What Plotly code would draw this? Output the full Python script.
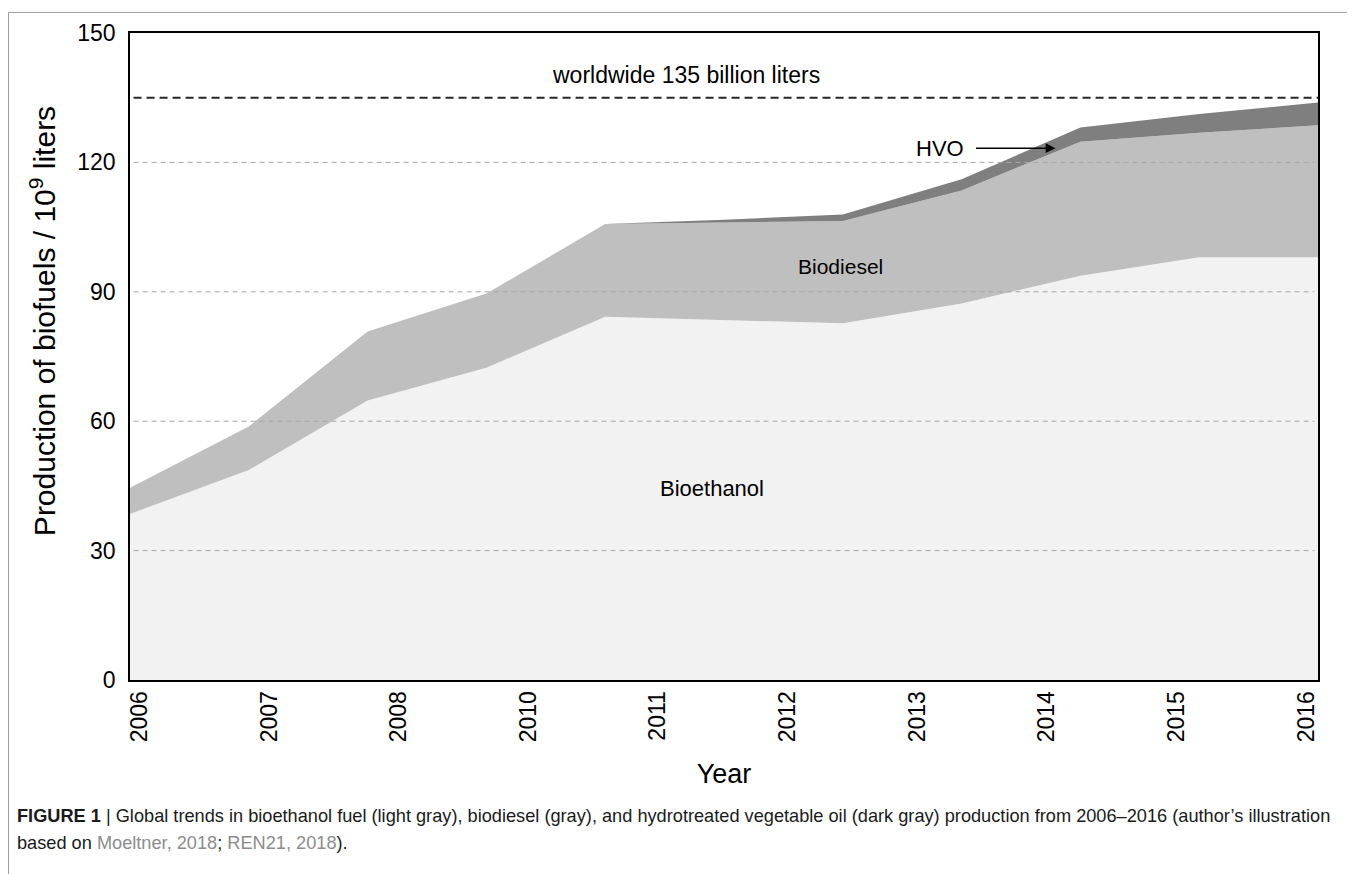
import numpy as np
import plotly.graph_objects as go

# production of biofuels, 10^9 liters
years = [2006, 2007, 2008, 2009, 2010, 2011, 2012, 2013, 2014, 2015, 2016]
bioethanol = [38.5, 48.7, 64.8, 72.4, 84.2, 83.5, 82.7, 87.3, 93.7, 98.0, 98.0]
biodiesel = [6.1, 10.1, 16.0, 17.2, 21.5, 22.5, 23.7, 26.2, 31.1, 28.9, 30.6]
hvo = [0.0, 0.0, 0.0, 0.0, 0.0, 0.7, 1.5, 2.6, 3.3, 4.3, 5.3]

# axis labels as printed in the figure (2009 is not labelled)
tick_labels = ["2006", "2007", "2008", "2010", "2011",
               "2012", "2013", "2014", "2015", "2016"]
grid_values = [30, 60, 90, 120]
worldwide_total = 135

fig = go.Figure()

fig.add_trace(go.Scatter(
    x=years, y=bioethanol, name="Bioethanol",
    stackgroup="fuels", mode="lines",
    line={'width': 0}, fillcolor="#f2f2f2"
))
fig.add_trace(go.Scatter(
    x=years, y=biodiesel, name="Biodiesel",
    stackgroup="fuels", mode="lines",
    line={'width': 0}, fillcolor="#bfbfbf"
))
fig.add_trace(go.Scatter(
    x=years, y=hvo, name="HVO",
    stackgroup="fuels", mode="lines",
    line={'width': 0}, fillcolor="#7f7f7f"
))

# dashed grid drawn above the filled areas
for g in grid_values:
    fig.add_shape(
        type="line", xref="paper", yref="y",
        x0=0.003, x1=0.997, y0=g, y1=g,
        line={'color': "#a6a6a6", 'width': 1, 'dash': "5px,4px"},
        layer="above"
    )

fig.add_shape(
    type="line", xref="paper", yref="y",
    x0=0.003, x1=1, y0=worldwide_total, y1=worldwide_total,
    line={'color': "#262626", 'width': 2, 'dash': "8px,5px"},
    layer="above"
)

# light frame around the whole figure
fig.add_shape(
    type="rect", xref="paper", yref="paper",
    x0=-0.1022, x1=1.03, y0=-0.35, y1=1.0318,
    line={'color': "#9a9a9a", 'width': 1}
)

text_font = {'family': "Arial, Liberation Sans", 'size': 22, 'color': "black"}

fig.add_annotation(x=2010.68, y=140.3, text="worldwide 135 billion liters",
                   showarrow=False, font={**text_font, 'size': 23})
fig.add_annotation(x=2011.98, y=95.8, text="Biodiesel",
                   showarrow=False, font={**text_font, 'size': 21})
fig.add_annotation(x=2010.9, y=44.3, text="Bioethanol",
                   showarrow=False, font=text_font)
fig.add_annotation(x=2013.79, y=123.3, text="HVO",
                   showarrow=True, ax=-115, ay=0, startstandoff=10,
                   arrowhead=2, arrowsize=1.3, arrowwidth=1.5,
                   arrowcolor="black", font=text_font)

# y axis title sits a little above the plot centre in the reference
fig.add_annotation(
    xref="paper", yref="paper", x=-0.091, y=0.5545,
    text="Production of biofuels / 10<sup>9</sup> liters",
    textangle=-90, showarrow=False,
    font={'family': "Arial, Liberation Sans", 'size': 30, 'color': "black"}
)

caption_font = {'family': "Arial, Liberation Sans", 'size': 18.2, 'color': "#1a1a1a"}
fig.add_annotation(
    xref="paper", yref="paper", x=-0.0968, y=-0.2105,
    xanchor="left", yanchor="middle", showarrow=False, align="left",
    text="<b>FIGURE 1</b> | Global trends in bioethanol fuel (light gray), biodiesel (gray), "
         "and hydrotreated vegetable oil (dark gray) production from 2006–2016 "
         "(author’s illustration",
    font=caption_font
)
fig.add_annotation(
    xref="paper", yref="paper", x=-0.0968, y=-0.2515,
    xanchor="left", yanchor="middle", showarrow=False, align="left",
    text="based on <span style='color:#8c8c8c'>Moeltner, 2018</span>; "
         "<span style='color:#8c8c8c'>REN21, 2018</span>).",
    font=caption_font
)

fig.update_layout(
    width=1347, height=866,
    margin={'l': 122, 'r': 37, 't': 21, 'b': 194},
    paper_bgcolor="white", plot_bgcolor="white",
    font={'family': "Arial, Liberation Sans", 'color': "black"},
    showlegend=False
)

fig.update_xaxes(
    range=[2006, 2016],
    tickmode="array",
    tickvals=list(np.linspace(2006.08, 2015.9, len(tick_labels))),
    ticktext=tick_labels,
    tickangle=-90, ticks="", showgrid=False, zeroline=False,
    tickfont={'size': 23},
    showline=True, linecolor="black", linewidth=2, mirror=True,
    title={'text': "Year", 'font': {'size': 27}, 'standoff': 23}
)

fig.update_yaxes(
    range=[0, 150], dtick=30,
    ticks="", showgrid=False, zeroline=False,
    tickfont={'size': 23}, ticklabelstandoff=8,
    showline=True, linecolor="black", linewidth=1.5, mirror=True
)

fig.write_html("out.html")
